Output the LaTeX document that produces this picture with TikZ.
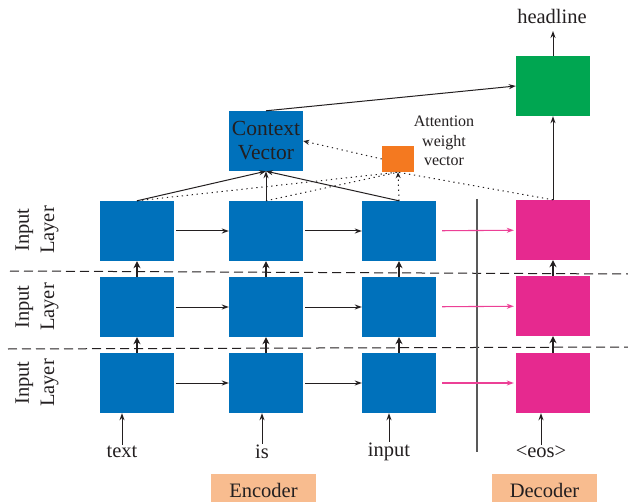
\documentclass[tikz,border=0pt]{standalone}
\usepackage{fontspec}
\setmainfont{Liberation Serif}
\usetikzlibrary{arrows.meta}
\definecolor{encblue}{RGB}{0,113,187}
\definecolor{decpink}{RGB}{230,41,143}
\definecolor{outgreen}{RGB}{0,166,81}
\definecolor{attorange}{RGB}{244,121,32}
\definecolor{peach}{RGB}{248,188,143}
\definecolor{inkc}{RGB}{35,31,32}
\definecolor{pinkarrow}{RGB}{236,64,150}
\tikzset{
  cell/.style={minimum width=74pt,minimum height=60pt,inner sep=0pt,draw=none},
  enc/.style={cell,fill=encblue},
  dec/.style={cell,fill=decpink},
  lbl/.style={font=\fontsize{20.5}{22}\selectfont,text=inkc,inner sep=1pt},
  tag/.style={font=\fontsize{20.5}{22}\selectfont,text=inkc,fill=peach,minimum width=105pt,minimum height=32pt,inner sep=0pt},
  arr/.style={-{Stealth[length=7pt,width=5pt]},inkc,line width=1pt},
  uparr/.style={-{Stealth[length=7pt,width=7pt]},inkc,line width=1.4pt},
  parr/.style={-{Stealth[length=7pt,width=5pt]},pinkarrow,line width=1.1pt},
  dots/.style={inkc,line width=1pt,dash pattern=on 1.3pt off 3.7pt},
  dotarr/.style={dots,-{Stealth[length=6pt,width=5pt]}},
  sep/.style={inkc,line width=1pt,dash pattern=on 9pt off 5pt},
}
\begin{document}
\begin{tikzpicture}[x=1pt,y=-1pt]
\useasboundingbox (0,0) rectangle (628,502);
% encoder / decoder cells
\node[enc] (b11) at (137,231) {};
\node[enc] (b12) at (266,231) {};
\node[enc] (b13) at (399,231) {};
\node[dec] (b14) at (553,230) {};
\node[enc] (b21) at (137,307) {};
\node[enc] (b22) at (266,307) {};
\node[enc] (b23) at (399,307) {};
\node[dec] (b24) at (553,306) {};
\node[enc] (b31) at (137,383) {};
\node[enc] (b32) at (266,383) {};
\node[enc] (b33) at (399,383) {};
\node[dec] (b34) at (553,383) {};
% top nodes
\node[enc,font=\fontsize{21.5}{24}\selectfont,text=inkc,align=center] (cv) at (266,141) {Context\\Vector};
\node[fill=attorange,minimum width=32pt,minimum height=26pt,inner sep=0pt] (att) at (398,159) {};
\node[font=\fontsize{16}{19.5}\selectfont,text=inkc,align=center] (attl) at (444,141) {Attention\\weight\\vector};
\node[cell,fill=outgreen] (out) at (553,86) {};
\node[lbl] (head) at (552,16) {headline};
\coordinate (headb) at (553,31);
% words
\node[lbl] (w1) at (122,452) {text};
\node[lbl] (w2) at (262,452) {is};
\node[lbl] (w3) at (389,452) {input};
\node[lbl] (w4) at (541,452) {<eos>};
% tags
\node[tag] (enct) at (263.5,490) {Encoder};
\node[tag] (dect) at (544.5,490) {Decoder};
% left labels
\node[lbl,rotate=90,align=center,font=\fontsize{20.5}{25}\selectfont] (l1) at (37,230) {Input\\Layer};
\node[lbl,rotate=90,align=center,font=\fontsize{20.5}{25}\selectfont] (l2) at (37,307) {Input\\Layer};
\node[lbl,rotate=90,align=center,font=\fontsize{20.5}{25}\selectfont] (l3) at (37,383) {Input\\Layer};
% separators
\coordinate (s1a) at (10,271); \coordinate (s1b) at (628,274);
\coordinate (s2a) at (8,349); \coordinate (s2b) at (628,347);
\draw[sep] (s1a) -- (s1b);
\draw[sep] (s2a) -- (s2b);
\coordinate (vt) at (477,199); \coordinate (vb) at (477,452);
\draw[line width=1.2pt,black!65] (vt) -- (vb);
% horizontal arrows
\foreach \r in {1,2,3}{
  \draw[arr,shorten <=2pt] (b\r1) -- (b\r2);
  \draw[arr,shorten <=2pt] (b\r2) -- (b\r3);
  \draw[parr,shorten <=6pt,shorten >=2pt] (b\r3) -- (b\r4);
}
% vertical arrows between rows
\foreach \c in {1,2,3,4}{
  \draw[uparr] (b3\c.north) -- (b2\c.south);
  \draw[uparr] (b2\c.north) -- (b1\c.south);
}
% input arrows
\draw[arr] (w1.north) -- (w1.north |- b31.south);
\draw[arr] (w2.north) -- (w2.north |- b32.south);
\draw[arr] (w3.north) -- (w3.north |- b33.south);
\draw[arr] (w4.north) -- (w4.north |- b34.south);
% attention
\draw[dots] (b11.north) -- (att.south);
\draw[dots] (b12.north) -- (att.south);
\draw[dotarr] (b13.north) -- (att.south);
\draw[dots] (b14.north) -- (att.south);
\draw[dotarr] (att.west) -- (cv.east);
\draw[arr] (b11.north) -- (cv.south);
\draw[arr] (b13.north) -- (cv.south);
\draw[arr] (b12.north) -- (cv.south);
% decoder output
\draw[arr] (b14.north) -- (out.south);
\draw[arr] (cv.north) -- (out.west);
\draw[arr] (out.north) -- (headb);
\end{tikzpicture}
\end{document}
